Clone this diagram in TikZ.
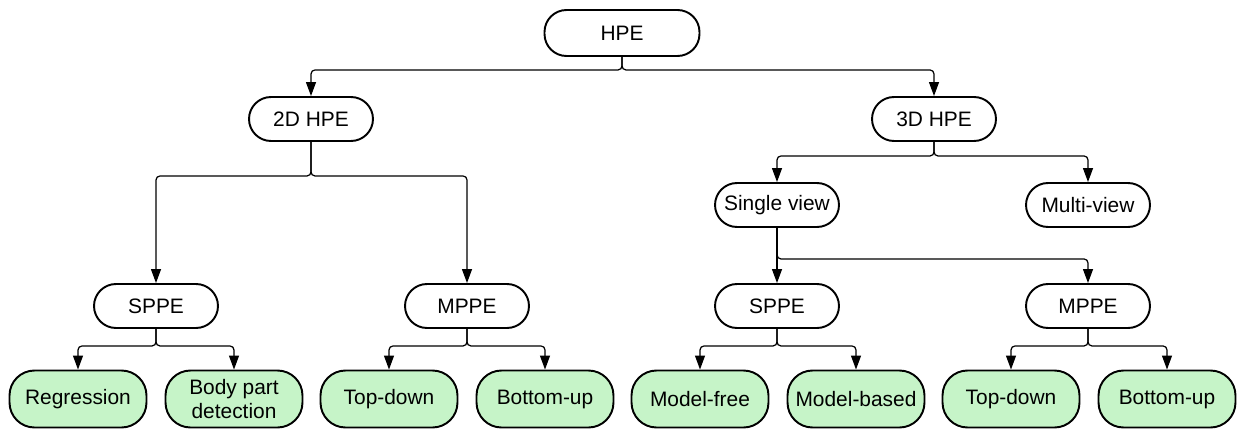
\documentclass[tikz,border=0pt]{standalone}
\usepackage{fontspec}
\setmainfont{Liberation Sans}
\usetikzlibrary{arrows.meta, positioning}
\definecolor{leafgreen}{RGB}{198, 244, 200}

\begin{document}
\begin{tikzpicture}[
    x=0.02cm, y=0.02cm,
    topic/.style={rectangle, draw, line width=1.1pt, rounded corners=0.44cm, fill=white, minimum width=2.48cm, minimum height=0.88cm, font=\fontsize{11.9}{13.5}\selectfont},
    leaf/.style={topic, fill=leafgreen, minimum width=2.74cm, minimum height=1.14cm, rounded corners=0.5cm, align=center, inner sep=1pt},
    arrow/.style={-{Triangle[length=0.28cm, width=0.2cm]}, line width=0.7pt, rounded corners=0.08cm}
]
\useasboundingbox (0,0) rectangle (1237,430);

% upper levels
\node[topic, minimum width=3.1cm, minimum height=0.92cm] (hpe) at (622,397) {HPE};
\node[topic] (hpe2d) at (311,311) {2D HPE};
\node[topic] (hpe3d) at (934,311) {3D HPE};
\node[topic] (single) at (777,225) {Single view};
\node[topic] (multi) at (1088,225) {Multi-view};
\node[topic] (sppeA) at (156,124) {SPPE};
\node[topic] (mppeA) at (467,124) {MPPE};
\node[topic] (sppeB) at (777,124) {SPPE};
\node[topic] (mppeB) at (1088,124) {MPPE};

% leaves
\node[leaf] (regr) at (78,31) {Regression};
\node[leaf] (bodypart) at (234,31) {Body part\\detection};
\node[leaf] (topdownA) at (389,31) {Top-down};
\node[leaf] (bottomupA) at (545,31) {Bottom-up};
\node[leaf] (modelfree) at (700,31) {Model-free};
\node[leaf] (modelbased) at (856,31) {Model-based};
\node[leaf] (topdownB) at (1011,31) {Top-down};
\node[leaf] (bottomupB) at (1167,31) {Bottom-up};

\draw[arrow] (hpe.south) -- ++(0,-13) -| (hpe2d.north);
\draw[arrow] (hpe.south) -- ++(0,-13) -| (hpe3d.north);
\draw[arrow] (hpe2d.south) -- ++(0,-34) -| (sppeA.north);
\draw[arrow] (hpe2d.south) -- ++(0,-34) -| (mppeA.north);
\draw[arrow] (hpe3d.south) -- ++(0,-14) -| (single.north);
\draw[arrow] (hpe3d.south) -- ++(0,-14) -| (multi.north);
\draw[arrow] (single) -- (sppeB);
\draw[arrow] (single.south) -- ++(0,-31) -| (mppeB.north);
\draw[arrow] (sppeA.south) -- ++(0,-17) -| (regr.north);
\draw[arrow] (sppeA.south) -- ++(0,-17) -| (bodypart.north);
\draw[arrow] (mppeA.south) -- ++(0,-17) -| (topdownA.north);
\draw[arrow] (mppeA.south) -- ++(0,-17) -| (bottomupA.north);
\draw[arrow] (sppeB.south) -- ++(0,-17) -| (modelfree.north);
\draw[arrow] (sppeB.south) -- ++(0,-17) -| (modelbased.north);
\draw[arrow] (mppeB.south) -- ++(0,-17) -| (topdownB.north);
\draw[arrow] (mppeB.south) -- ++(0,-17) -| (bottomupB.north);
\end{tikzpicture}
\end{document}
